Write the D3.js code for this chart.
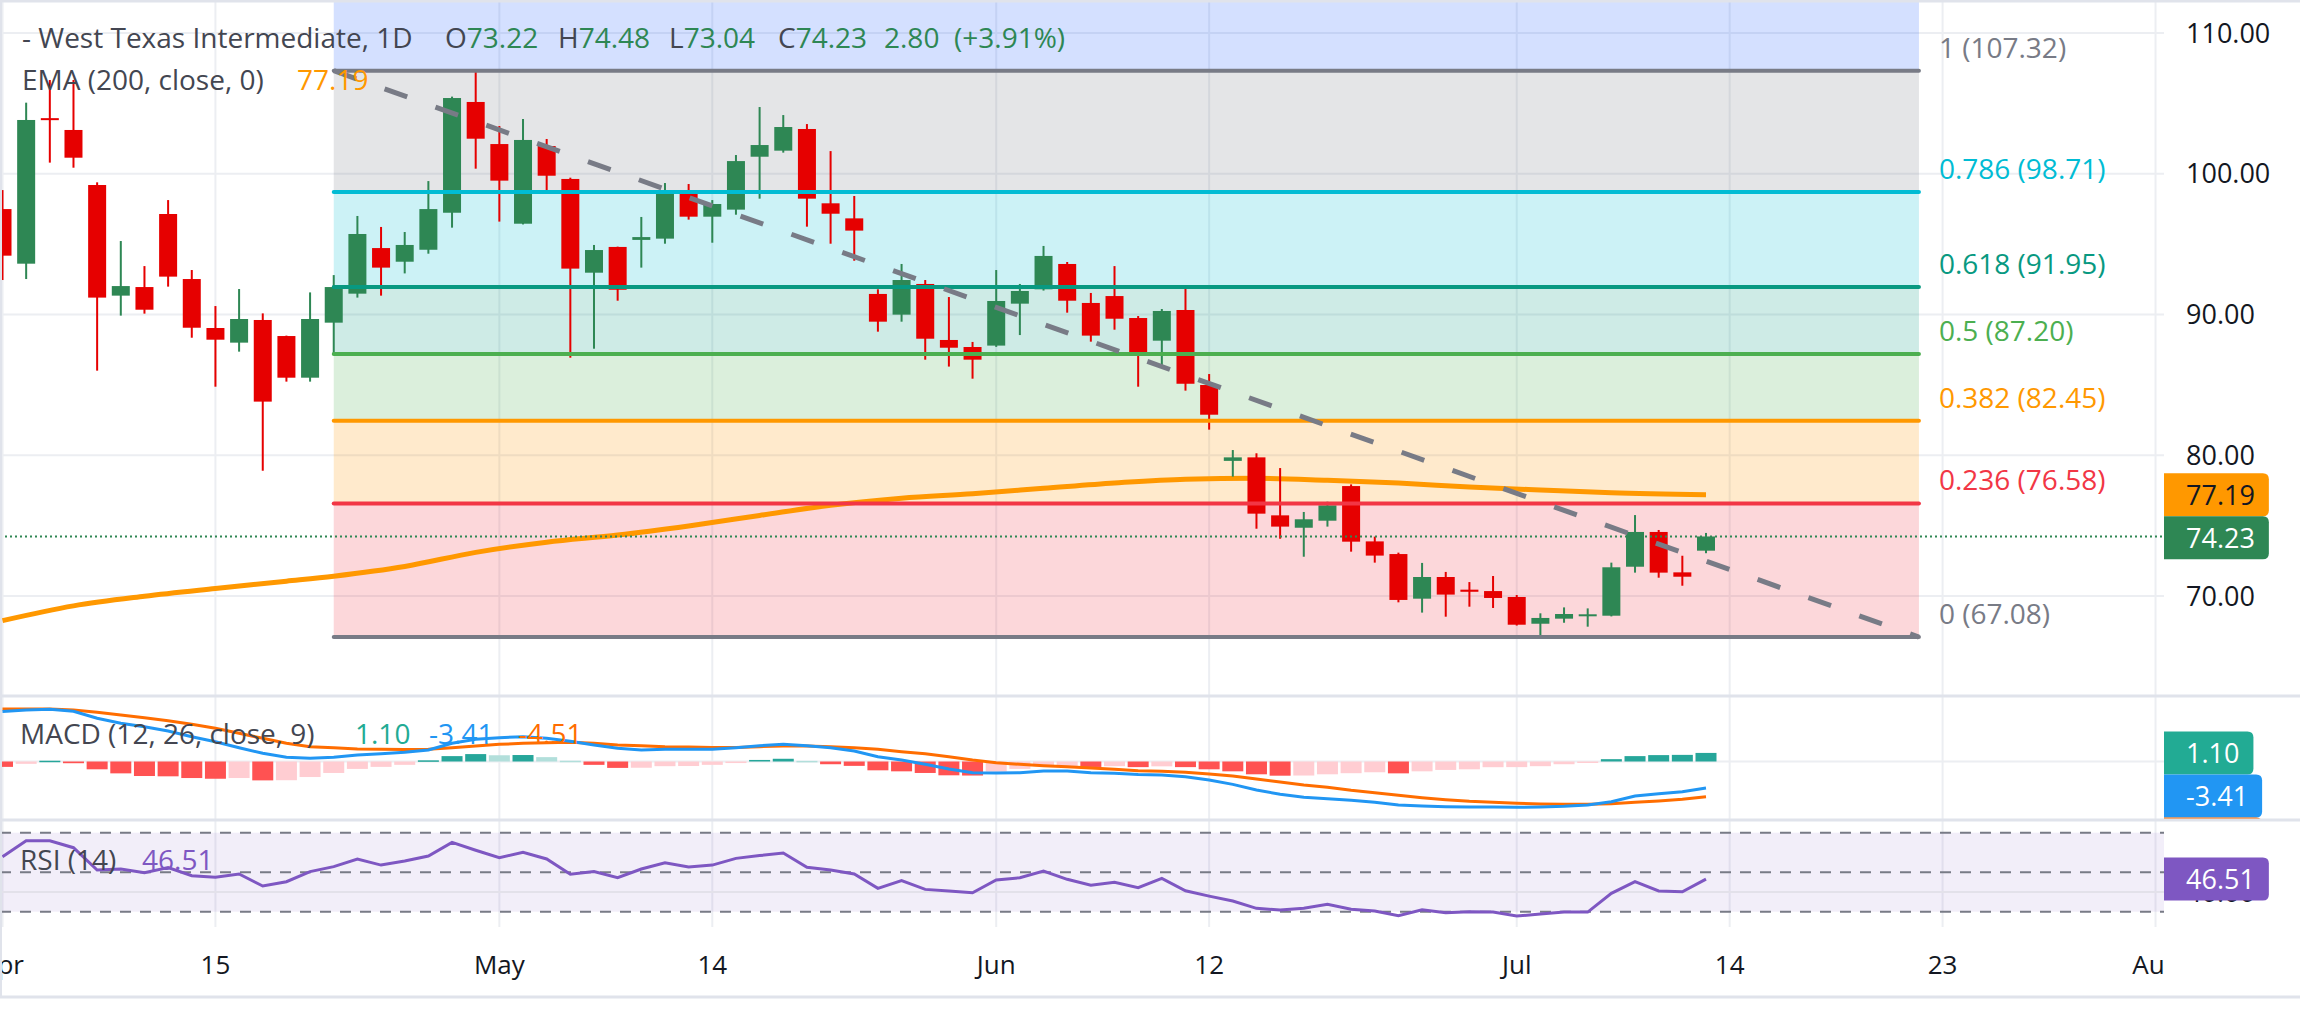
<!DOCTYPE html>
<html>
<head>
<meta charset="utf-8">
<script src="https://cdn.jsdelivr.net/npm/d3@7"></script>
<style>
html, body { margin: 0; padding: 0; background: #fff; }
svg { display: block; font-family: "Open Sans", sans-serif; }
</style>
</head>
<body>
<svg id="chart" width="2300" height="1030"></svg>
<script>
// ---------------------------------------------------------------
// Data (bar index 0 = first visible bar)

var opens  = [97.49,93.61,103.95,103.11,99.2,91.34,91.95,97.14,92.52,89.04,88.0,89.61,88.47,85.51,89.42,91.48,94.72,93.75,94.6,97.23,
              105.1,102.11,96.45,101.97,99.63,92.97,94.8,95.3,95.39,98.63,96.95,97.45,101.21,101.64,103.18,97.9,96.83,91.46,89.99,92.17,
              88.19,87.69,87.79,90.77,91.79,93.59,90.82,91.31,89.75,88.14,90.32,84.99,79.6,79.85,75.73,74.85,75.35,77.81,73.88,72.98,
              69.81,71.35,70.45,70.35,69.93,68.03,68.39,68.6,68.6,72.08,74.55,71.68,73.22];
var highs  = [98.84,105.05,106.66,106.66,99.39,95.22,93.44,98.13,93.16,90.6,91.81,90.08,88.5,91.57,92.8,97.0,96.22,95.86,99.48,105.48,
              107.37,103.39,103.89,102.47,99.72,94.94,94.82,96.93,99.34,99.27,98.13,101.33,104.74,104.17,103.53,101.61,98.42,91.79,93.59,92.45,
              91.24,88.05,93.16,92.17,94.87,93.73,91.53,93.44,89.89,90.39,91.86,85.77,80.37,80.14,79.09,75.97,76.7,77.93,74.22,73.08,
              72.35,71.71,70.99,71.42,70.07,68.77,69.19,69.12,72.37,75.75,74.69,72.86,74.48];
var lows   = [92.45,92.52,100.79,100.43,86.01,89.92,90.06,91.98,88.35,84.87,87.36,78.9,85.23,85.23,87.12,91.2,91.34,92.92,94.32,96.17,
              100.36,96.6,96.4,98.73,86.93,87.57,90.98,93.33,95.03,96.74,95.1,97.09,98.23,101.5,96.24,95.03,93.82,88.78,89.49,86.79,
              86.3,85.44,87.7,88.54,91.7,90.13,88.07,88.92,84.87,86.3,84.59,81.82,78.48,74.78,74.07,72.79,74.93,73.15,72.37,69.55,
              68.82,68.53,69.24,69.15,67.9,67.11,68.1,67.82,68.55,71.66,71.3,70.73,73.04];
var closes = [94.18,103.82,103.82,101.14,91.2,92.02,90.34,92.69,89.06,88.21,89.68,83.81,85.51,89.68,91.95,95.72,93.33,94.94,97.49,105.38,
              102.49,99.51,102.4,99.86,93.26,94.58,91.76,95.5,98.63,96.95,97.85,100.9,102.04,103.32,98.23,97.16,95.96,89.49,92.45,88.28,
              87.64,86.79,90.96,91.67,94.16,90.98,88.5,89.7,87.29,90.25,85.08,82.88,79.85,75.85,74.93,75.45,76.44,73.86,72.87,69.72,
              71.35,70.1,70.3,69.86,67.96,68.44,68.72,68.7,72.04,74.55,71.66,71.37,74.23];

// EMA(200) read at selected bars
var emaBars   = [0,3,6,9,12,14,17,20,23,26,29,32,35,38,41,44,47,50,53,56,59,62,65,68,72];
var emaValues = [68.25,69.3,69.98,70.53,71.05,71.41,72.1,73.1,73.82,74.33,74.98,75.72,76.45,76.95,77.27,77.65,78.03,78.3,78.36,78.22,78.02,77.75,77.53,77.33,77.19];

var macdHist = [-0.69,-0.3,0.1,-0.22,-1.0,-1.52,-1.86,-1.9,-2.12,-2.21,-2.12,-2.42,-2.4,-1.99,-1.47,-0.95,-0.69,-0.43,0.15,0.69,
                0.95,0.8,0.83,0.56,0.1,-0.43,-0.82,-0.8,-0.6,-0.58,-0.43,-0.2,0.2,0.35,0.08,-0.35,-0.56,-1.13,-1.26,-1.47,
                -1.77,-1.8,-1.3,-0.95,-0.6,-0.58,-0.7,-0.6,-0.72,-0.62,-0.72,-1.0,-1.26,-1.64,-1.82,-1.8,-1.64,-1.5,-1.38,-1.52,
                -1.26,-1.08,-1.0,-0.73,-0.72,-0.6,-0.35,-0.15,0.3,0.69,0.82,0.85,1.10];
var macdLine = [6.4,6.6,6.7,6.45,5.54,4.9,4.46,3.91,3.18,2.54,1.77,1.05,0.54,0.41,0.54,0.83,1.0,1.18,1.47,2.33,
                2.85,3.05,3.18,2.97,2.6,2.12,1.69,1.47,1.56,1.56,1.56,1.77,2.03,2.2,2.03,1.77,1.35,0.62,0.19,-0.36,
                -0.96,-1.43,-1.47,-1.43,-1.22,-1.22,-1.43,-1.52,-1.68,-1.73,-1.95,-2.37,-2.93,-3.65,-4.21,-4.59,-4.77,-4.97,-5.23,-5.58,
                -5.71,-5.79,-5.83,-5.83,-5.88,-5.83,-5.75,-5.58,-5.15,-4.42,-4.12,-3.87,-3.41];
var macdSignal = [6.73,6.73,6.73,6.6,6.3,5.96,5.62,5.23,4.77,4.26,3.62,2.97,2.33,1.9,1.77,1.6,1.56,1.54,1.56,1.77,
                  1.99,2.2,2.33,2.41,2.46,2.33,2.12,2.03,1.9,1.86,1.81,1.81,1.9,1.99,1.99,1.9,1.77,1.56,1.26,1.0,
                  0.62,0.19,-0.15,-0.36,-0.54,-0.67,-0.83,-1.0,-1.18,-1.26,-1.39,-1.6,-1.86,-2.24,-2.63,-3.01,-3.31,-3.7,-4.0,-4.34,
                  -4.64,-4.9,-5.1,-5.23,-5.36,-5.45,-5.49,-5.49,-5.41,-5.23,-5.06,-4.85,-4.51];
var rsiValues = [57.8,65.9,65.9,62.4,51.1,51.6,49.7,52.3,48.2,47.4,49.1,43.0,45.2,50.3,52.8,56.7,53.6,55.7,58.2,65.1,
                 61.1,57.3,60.1,56.7,49.0,50.3,47.2,51.6,54.8,52.6,53.6,57.0,58.4,59.7,52.5,51.1,49.1,41.8,45.7,41.3,
                 40.5,39.6,46.1,47.2,50.6,46.4,43.4,44.9,42.2,46.9,40.6,37.9,35.4,31.7,30.9,31.7,33.7,31.2,30.4,28.0,
                 31.0,29.5,30.0,29.8,27.8,28.8,29.8,29.8,39.3,45.2,40.5,40.1,46.51];

// Fibonacci retracement drawn from bar 14 (high) to bar 81 (low)
var fibStart = 14, fibEnd = 81;
var fibRatios = ["1", "0.786", "0.618", "0.5", "0.382", "0.236", "0"];
var fibPrices = [107.32, 98.71, 91.95, 87.20, 82.45, 76.58, 67.08];

var timeTickBars   = [0, 9, 21, 30, 42, 51, 64, 73, 82, 91];
var timeTickLabels = ["Apr", "15", "May", "14", "Jun", "12", "Jul", "14", "23", "Aug"];
var priceTicks = [70, 80, 90, 100, 110];
var rsiLevels = [70, 50, 30];

var symbolName = "- West Texas Intermediate, 1D";
var lastChange = "2.80", lastChangePct = "(+3.91%)";

// ---------------------------------------------------------------
// Layout

var W = 2300, H = 1030, plotRight = 2164, axisLabelX = 2186;
var mainPane = {top: 2, bottom: 695};
var macdPane = {top: 697, bottom: 819};
var rsiPane  = {top: 822, bottom: 927};

var upColor = "#2e8754", downColor = "#e60000";
var fibColors = ["#787b86", "#00bcd4", "#089981", "#4caf50", "#ff9800", "#f23645", "#787b86"];
var textColor = "#434651";

var x  = d3.scaleLinear().domain([0, 72]).range([2.5, 1706]);
var y  = d3.scaleLinear().domain([70, 110]).range([596, 33]);
var yM = d3.scaleLinear().domain([0, 1]).range([761.5, 753.7]);
var yR = d3.scaleLinear().domain([30, 70]).range([911.7, 832.7]);

var svg = d3.select("#chart");
svg.append("rect").attr("width", W).attr("height", H).attr("fill", "#fff");

var defs = svg.append("defs");
function addClip(id, x0, y0, w, h) {
    defs.append("clipPath").attr("id", id)
        .append("rect").attr("x", x0).attr("y", y0).attr("width", w).attr("height", h);
}
addClip("clipMain", 0, mainPane.top, plotRight, mainPane.bottom - mainPane.top);
addClip("clipMacd", 0, macdPane.top, plotRight, macdPane.bottom - macdPane.top);
addClip("clipRsi",  0, rsiPane.top,  plotRight, rsiPane.bottom - rsiPane.top);
addClip("clipMacdAxis", 0, macdPane.top, W, macdPane.bottom - macdPane.top + 1);
addClip("clipTime", 0, 927, plotRight, 70);

// ---------------------------------------------------------------
// Grid and pane borders

var grid = svg.append("g");
grid.selectAll("line.v").data(timeTickBars).enter().append("line")
    .attr("x1", function(d) { return x(d); }).attr("x2", function(d) { return x(d); })
    .attr("y1", mainPane.top).attr("y2", rsiPane.bottom)
    .attr("stroke", "#eceef2").attr("stroke-width", 2);
grid.selectAll("line.h").data(priceTicks).enter().append("line")
    .attr("x1", 0).attr("x2", plotRight)
    .attr("y1", function(d) { return y(d); }).attr("y2", function(d) { return y(d); })
    .attr("stroke", "#eceef2").attr("stroke-width", 2);

// ---------------------------------------------------------------
// Main pane

var main = svg.append("g").attr("clip-path", "url(#clipMain)");

// fib zones: each zone takes the colour of the level at its top
var x0f = x(fibStart), x1f = x(fibEnd);
main.append("rect")
    .attr("x", x0f).attr("width", x1f - x0f)
    .attr("y", mainPane.top).attr("height", y(fibPrices[0]) - mainPane.top)
    .attr("fill", "#2962ff").attr("fill-opacity", 0.2);
main.selectAll("rect.zone").data(fibPrices.slice(0, -1)).enter().append("rect")
    .attr("x", x0f).attr("width", x1f - x0f)
    .attr("y", function(d) { return y(d); })
    .attr("height", function(d, i) { return y(fibPrices[i + 1]) - y(d); })
    .attr("fill", function(d, i) { return fibColors[i]; })
    .attr("fill-opacity", 0.2);

// EMA 200
main.append("path")
    .datum(emaBars.map(function(b, i) { return [b, emaValues[i]]; }))
    .attr("fill", "none").attr("stroke", "#ff9800").attr("stroke-width", 5)
    .attr("d", d3.line().x(function(d) { return x(d[0]); }).y(function(d) { return y(d[1]); }).curve(d3.curveMonotoneX));

// candles
var bars = d3.range(opens.length);
var candle = main.selectAll("g.candle").data(bars).enter().append("g");
candle.append("rect")
    .attr("x", function(i) { return x(i) - 1; }).attr("width", 2)
    .attr("y", function(i) { return y(highs[i]); })
    .attr("height", function(i) { return y(lows[i]) - y(highs[i]); })
    .attr("fill", function(i) { return closes[i] >= opens[i] ? upColor : downColor; });
candle.append("rect")
    .attr("x", function(i) { return x(i) - 9; }).attr("width", 18)
    .attr("y", function(i) { return y(Math.max(opens[i], closes[i])); })
    .attr("height", function(i) { return Math.max(2, Math.abs(y(opens[i]) - y(closes[i]))); })
    .attr("fill", function(i) { return closes[i] >= opens[i] ? upColor : downColor; });

// fib level lines and the dashed trend line
main.selectAll("line.fib").data(fibPrices).enter().append("line")
    .attr("x1", x0f).attr("x2", x1f)
    .attr("y1", function(d) { return y(d); }).attr("y2", function(d) { return y(d); })
    .attr("stroke", function(d, i) { return fibColors[i]; })
    .attr("stroke-width", 4).attr("stroke-linecap", "round");
main.append("line")
    .attr("x1", x0f).attr("y1", y(fibPrices[0]))
    .attr("x2", x1f).attr("y2", y(fibPrices[fibPrices.length - 1]))
    .attr("stroke", "#787b86").attr("stroke-width", 5).attr("stroke-dasharray", "24 30");

main.selectAll("text.fib").data(fibPrices).enter().append("text")
    .attr("x", x1f + 20).attr("y", function(d) { return y(d) - 13; })
    .attr("font-size", 28).attr("fill", function(d, i) { return fibColors[i]; })
    .text(function(d, i) { return fibRatios[i] + " (" + d.toFixed(2) + ")"; });

// last price line
var last = opens.length - 1;
main.append("line")
    .attr("x1", 0).attr("x2", plotRight)
    .attr("y1", y(closes[last])).attr("y2", y(closes[last]))
    .attr("stroke", upColor).attr("stroke-width", 2).attr("stroke-dasharray", "2 3");

// legend
var legend = svg.append("g").attr("font-size", 28).attr("fill", textColor);
legend.append("text").attr("x", 22).attr("y", 48).text(symbolName);
var ohlc = [["O", opens[last]], ["H", highs[last]], ["L", lows[last]], ["C", closes[last]]];
var ohlcX = [445, 558, 669, 778];
ohlc.forEach(function(p, k) {
    var t = legend.append("text").attr("x", ohlcX[k]).attr("y", 48);
    t.append("tspan").text(p[0]);
    t.append("tspan").attr("fill", upColor).text(p[1].toFixed(2));
});
legend.append("text").attr("x", 884).attr("y", 48).attr("fill", upColor).text(lastChange);
legend.append("text").attr("x", 954).attr("y", 48).attr("fill", upColor).text(lastChangePct);
legend.append("text").attr("x", 22).attr("y", 90).text("EMA (200, close, 0)");
legend.append("text").attr("x", 297).attr("y", 90).attr("fill", "#ff9800").text(emaValues[emaValues.length - 1].toFixed(2));

// ---------------------------------------------------------------
// MACD pane

var macd = svg.append("g").attr("clip-path", "url(#clipMacd)");
macd.append("line").attr("x1", 0).attr("x2", plotRight).attr("y1", yM(0)).attr("y2", yM(0))
    .attr("stroke", "#eceef2").attr("stroke-width", 2);
macd.selectAll("rect.hist").data(bars).enter().append("rect")
    .attr("x", function(i) { return x(i) - 10.5; }).attr("width", 21)
    .attr("y", function(i) { return Math.min(yM(0), yM(macdHist[i])); })
    .attr("height", function(i) { return Math.max(1.5, Math.abs(yM(macdHist[i]) - yM(0))); })
    .attr("fill", function(i) {
        var v = macdHist[i], prev = i > 0 ? macdHist[i - 1] : v;
        if (v >= 0) return (i === 0 || v > prev) ? "#26a69a" : "#b2dfdb";
        return (i === 0 || v < prev) ? "#ff5252" : "#ffcdd2";
    });
var lineM = d3.line().x(function(v, i) { return x(i); }).y(function(v) { return yM(v); });
macd.append("path").datum(macdSignal).attr("d", lineM)
    .attr("fill", "none").attr("stroke", "#ff6d00").attr("stroke-width", 3);
macd.append("path").datum(macdLine).attr("d", lineM)
    .attr("fill", "none").attr("stroke", "#2196f3").attr("stroke-width", 3);

var macdLegend = svg.append("g").attr("font-size", 28);
macdLegend.append("text").attr("x", 20).attr("y", 744).attr("fill", textColor).text("MACD (12, 26, close, 9)");
macdLegend.append("text").attr("x", 355).attr("y", 744).attr("fill", "#22ab94").text(macdHist[last].toFixed(2));
macdLegend.append("text").attr("x", 429).attr("y", 744).attr("fill", "#2196f3").text(macdLine[last].toFixed(2));
macdLegend.append("text").attr("x", 518).attr("y", 744).attr("fill", "#ff6d00").text(macdSignal[last].toFixed(2));

// ---------------------------------------------------------------
// RSI pane

var rsi = svg.append("g").attr("clip-path", "url(#clipRsi)");
rsi.append("rect").attr("x", 0).attr("width", plotRight)
    .attr("y", yR(70)).attr("height", yR(30) - yR(70))
    .attr("fill", "#7e57c2").attr("fill-opacity", 0.1);
rsi.append("line").attr("x1", 0).attr("x2", plotRight).attr("y1", yR(40)).attr("y2", yR(40))
    .attr("stroke", "#e3e1ea").attr("stroke-width", 2);
rsi.selectAll("line.lvl").data(rsiLevels).enter().append("line")
    .attr("x1", 0).attr("x2", plotRight)
    .attr("y1", function(d) { return yR(d); }).attr("y2", function(d) { return yR(d); })
    .attr("stroke", "#787b86").attr("stroke-width", 2).attr("stroke-dasharray", "11 9");
rsi.append("path").datum(rsiValues)
    .attr("d", d3.line().x(function(v, i) { return x(i); }).y(function(v) { return yR(v); }))
    .attr("fill", "none").attr("stroke", "#7e57c2").attr("stroke-width", 3);

var rsiLegend = svg.append("g").attr("font-size", 28);
rsiLegend.append("text").attr("x", 20).attr("y", 870).attr("fill", textColor).text("RSI (14)");
rsiLegend.append("text").attr("x", 142).attr("y", 870).attr("fill", "#7e57c2").text(rsiValues[last].toFixed(2));

// ---------------------------------------------------------------
// Axes

var priceAxis = svg.append("g").attr("font-size", 27).attr("fill", "#131722");
priceAxis.selectAll("text").data(priceTicks).enter().append("text")
    .attr("x", axisLabelX).attr("y", function(d) { return y(d); }).attr("dy", "0.36em")
    .text(function(d) { return d.toFixed(2); });
priceAxis.append("text").attr("x", axisLabelX).attr("y", yR(40)).attr("dy", "0.36em").text("40.00");

var timeAxis = svg.append("g").attr("clip-path", "url(#clipTime)")
    .attr("font-size", 26).attr("fill", "#131722").attr("text-anchor", "middle");
timeAxis.selectAll("text").data(timeTickBars).enter().append("text")
    .attr("x", function(d) { return x(d); }).attr("y", 974)
    .text(function(d, i) { return timeTickLabels[i]; });

// value boxes on the right scale
function boxPath(top, bottom, right) {
    var r = 6, l = plotRight;
    return "M" + l + "," + top + "H" + (right - r) + "Q" + right + "," + top + " " + right + "," + (top + r) +
           "V" + (bottom - r) + "Q" + right + "," + bottom + " " + (right - r) + "," + bottom + "H" + l + "Z";
}
function drawBoxes(parent, items) {
    var h = 43, prevBottom = -1e9;
    items.sort(function(a, b) { return a.y - b.y; });
    items.forEach(function(it) {
        var top = Math.max(it.y - h / 2, prevBottom);
        prevBottom = top + h;
        var g = parent.append("g");
        var path = g.append("path").attr("fill", it.bg);
        var t = g.append("text").attr("x", axisLabelX).attr("y", top + h / 2).attr("dy", "0.36em")
            .attr("font-size", 27).attr("fill", it.fg).text(it.text);
        var w = t.node().getComputedTextLength();
        path.attr("d", boxPath(top, top + h, axisLabelX + w + 14));
    });
}
drawBoxes(svg.append("g"), [
    {y: y(emaValues[emaValues.length - 1]), text: emaValues[emaValues.length - 1].toFixed(2), bg: "#ff9800", fg: "#131722"},
    {y: y(closes[last]), text: closes[last].toFixed(2), bg: upColor, fg: "#fff"}
]);
drawBoxes(svg.append("g").attr("clip-path", "url(#clipMacdAxis)"), [
    {y: yM(macdHist[last]), text: macdHist[last].toFixed(2), bg: "#22ab94", fg: "#fff"},
    {y: yM(macdLine[last]), text: macdLine[last].toFixed(2), bg: "#2196f3", fg: "#fff"},
    {y: yM(macdSignal[last]), text: macdSignal[last].toFixed(2), bg: "#ff6d00", fg: "#fff"}
]);
drawBoxes(svg.append("g"), [
    {y: yR(rsiValues[last]), text: rsiValues[last].toFixed(2), bg: "#7e57c2", fg: "#fff"}
]);

// pane separators
var sep = svg.append("g").attr("stroke", "#e0e3eb").attr("stroke-width", 3);
[1, 696, 820, 997].forEach(function(yy) {
    sep.append("line").attr("x1", 0).attr("x2", W).attr("y1", yy).attr("y2", yy);
});
sep.append("line").attr("x1", 1).attr("x2", 1).attr("y1", 0).attr("y2", 997).attr("stroke-width", 2);
</script>
</body>
</html>
